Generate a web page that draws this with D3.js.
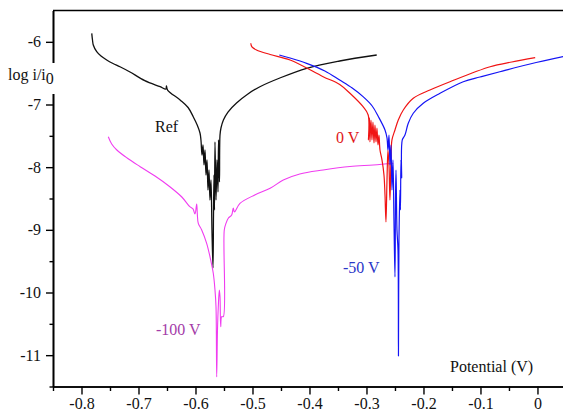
<!DOCTYPE html>
<html>
<head>
<meta charset="utf-8">
<script src="https://cdn.jsdelivr.net/npm/d3@7"></script>
<style>
  body { margin: 0; background: #fff; }
  svg { display: block; }
  text { font-family: "Liberation Serif", "Times New Roman", serif; }
</style>
</head>
<body>
<svg id="chart" width="563" height="416"></svg>
<script>
// tick values
const xMajor = [-0.8, -0.7, -0.6, -0.5, -0.4, -0.3, -0.2, -0.1, 0];
const xMinor = [-0.85, -0.75, -0.65, -0.55, -0.45, -0.35, -0.25, -0.15, -0.05];
const yMajor = [-11, -10, -9, -8, -7, -6];
const yMinor = [-11.5, -10.5, -9.5, -8.5, -7.5, -6.5];

// Ref curve [potential, log i/i0]
const refCurve = [
  [-0.782, -5.864], [-0.7807, -5.971], [-0.7793, -6.050], [-0.7733, -6.157], [-0.7658, -6.226],
  [-0.7558, -6.290], [-0.7447, -6.346], [-0.7325, -6.397], [-0.7149, -6.481],
  [-0.689, -6.620], [-0.662, -6.716], [-0.652, -6.753], [-0.651, -6.705],
  [-0.649, -6.769], [-0.627, -6.928], [-0.613, -7.048], [-0.604, -7.195], [-0.597, -7.327],
  [-0.5921, -7.455], [-0.5904, -7.566], [-0.5886, -7.806], [-0.5868, -7.646], [-0.5851, -7.965],
  [-0.5833, -7.726], [-0.5816, -8.125], [-0.5798, -7.885], [-0.5781, -8.364], [-0.5763, -8.045],
  [-0.5746, -8.524], [-0.5728, -8.204], [-0.5711, -9.002], [-0.5693, -9.609], [-0.5684, -8.763],
  [-0.5675, -8.125], [-0.5667, -8.683], [-0.5658, -7.598], [-0.5640, -8.524], [-0.5623, -7.885],
  [-0.5605, -8.396], [-0.5596, -7.566], [-0.5579, -8.236], [-0.5570, -7.487], [-0.5553, -7.375],
  [-0.551, -7.247], [-0.543, -7.120], [-0.528, -6.976], [-0.508, -6.832], [-0.487, -6.716],
  [-0.452, -6.577], [-0.405, -6.422], [-0.347, -6.306], [-0.282, -6.210]
];

// 0 V curve
const zeroVCurve = [
  [-0.503, -6.023], [-0.501, -6.082], [-0.493, -6.130], [-0.469, -6.202], [-0.434, -6.290],
  [-0.376, -6.556], [-0.347, -6.681], [-0.329, -6.821], [-0.306, -7.035], [-0.297, -7.167],
  [-0.2965, -7.566], [-0.2947, -7.215], [-0.2939, -7.598], [-0.2921, -7.247], [-0.2904, -7.566],
  [-0.2886, -7.279], [-0.2868, -7.614], [-0.2851, -7.327], [-0.2833, -7.598], [-0.2816, -7.375],
  [-0.2798, -7.646], [-0.2781, -7.487], [-0.2763, -7.726], [-0.2728, -7.885], [-0.2693, -8.125],
  [-0.2675, -8.444], [-0.2658, -8.875], [-0.2640, -8.205], [-0.2623, -7.726], [-0.2605, -7.965],
  [-0.2588, -8.524], [-0.2570, -7.885], [-0.2553, -7.566], [-0.250, -7.407], [-0.2442, -7.247],
  [-0.2354, -7.088], [-0.2179, -6.901], [-0.1886, -6.769], [-0.1535, -6.636],
  [-0.083, -6.397], [-0.045, -6.322], [-0.004, -6.253]
];

// -50 V curve
const minus50Curve = [
  [-0.453, -6.210], [-0.434, -6.258], [-0.405, -6.343], [-0.373, -6.465], [-0.347, -6.609],
  [-0.325, -6.737], [-0.306, -6.875], [-0.290, -7.024], [-0.279, -7.195], [-0.2675, -7.407],
  [-0.2640, -7.534], [-0.2623, -7.726], [-0.2605, -7.487], [-0.2588, -7.965], [-0.2570, -7.646],
  [-0.2553, -8.364], [-0.2535, -7.885], [-0.2518, -8.843], [-0.2500, -9.752], [-0.2491, -8.524],
  [-0.2482, -8.045], [-0.2465, -9.002], [-0.2447, -9.322], [-0.2439, -11.013], [-0.2430, -9.162],
  [-0.2412, -8.364], [-0.2404, -8.683], [-0.2395, -7.885], [-0.2383, -8.173], [-0.2372, -7.566],
  [-0.2325, -7.487], [-0.2267, -7.300], [-0.2179, -7.140], [-0.2004, -6.981], [-0.171, -6.821],
  [-0.1302, -6.636], [-0.101, -6.561], [-0.066, -6.477], [-0.013, -6.354], [0.045, -6.237]
];

// -100 V curve
const minus100Curve = [
  [-0.753, -7.514], [-0.747, -7.630], [-0.738, -7.726], [-0.720, -7.854], [-0.697, -7.992],
  [-0.671, -8.141], [-0.645, -8.312], [-0.624, -8.476], [-0.610, -8.631], [-0.6044, -8.667],
  [-0.6009, -8.747], [-0.5979, -8.588], [-0.5968, -8.747], [-0.5951, -8.896], [-0.5891, -9.002],
  [-0.5804, -9.215], [-0.5746, -9.429], [-0.5688, -9.693], [-0.5658, -9.960], [-0.5640, -10.226],
  [-0.5628, -11.348], [-0.5614, -10.598], [-0.5600, -10.226], [-0.5582, -9.960], [-0.5570, -10.067],
  [-0.5558, -10.545], [-0.5540, -10.386], [-0.5512, -10.386], [-0.5495, -9.002], [-0.5465, -8.896],
  [-0.5425, -8.816], [-0.5365, -8.763], [-0.5337, -8.651], [-0.5316, -8.715], [-0.522, -8.577],
  [-0.496, -8.444], [-0.469, -8.337], [-0.446, -8.205], [-0.417, -8.109], [-0.376, -8.045],
  [-0.329, -7.989], [-0.288, -7.965], [-0.253, -7.938]
];

const series = [
  { name: "Ref", data: refCurve, color: "#111111", width: 1.3 },
  { name: "-100 V", data: minus100Curve, color: "#f03cf0", width: 1.1 },
  { name: "0 V", data: zeroVCurve, color: "#f01414", width: 1.2 },
  { name: "-50 V", data: minus50Curve, color: "#1414f5", width: 1.2 }
];

const svg = d3.select("#chart");
const plot = { left: 53, right: 563, top: 10.5, bottom: 386.5 };
const serif = "'Liberation Serif', 'Times New Roman', serif";

const x = d3.scaleLinear().domain([-0.85, 0.0448]).range([plot.left, plot.right]);
const y = d3.scaleLinear().domain([-11.5, -5.5]).range([plot.bottom, plot.top]);

// curves
const line = d3.line()
  .x(d => x(d[0])).y(d => y(d[1]))
  .curve(d3.curveCatmullRom.alpha(0.5));
svg.append("g").selectAll("path")
  .data(series)
  .enter()
  .append("path")
  .attr("d", d => line(d.data))
  .attr("fill", "none")
  .attr("stroke", d => d.color)
  .attr("stroke-width", d => d.width)
  .attr("stroke-linejoin", "round");

// axes
const tickFmt = d => d === 0 ? "0" : d3.format(".1f")(d).replace("−", "-");

svg.append("g")
  .attr("transform", "translate(0," + plot.bottom + ")")
  .call(d3.axisBottom(x).tickValues(xMajor).tickSize(8).tickSizeOuter(0).tickPadding(3).tickFormat(tickFmt));
svg.append("g")
  .attr("transform", "translate(0," + plot.bottom + ")")
  .call(d3.axisBottom(x).tickValues(xMinor).tickSize(4.5).tickSizeOuter(0).tickFormat(""));

svg.append("g")
  .attr("transform", "translate(" + plot.left + ",0)")
  .call(d3.axisLeft(y).tickValues(yMajor).tickSize(7).tickSizeOuter(0).tickPadding(5).tickFormat(d => String(d)));
svg.append("g")
  .attr("transform", "translate(" + plot.left + ",0)")
  .call(d3.axisLeft(y).tickValues(yMinor).tickSize(3.5).tickSizeOuter(0).tickFormat(""));

svg.selectAll(".domain").attr("stroke", "#000").attr("stroke-width", 1.6);
svg.selectAll(".tick line").attr("stroke", "#000").attr("stroke-width", 1.4);
svg.selectAll("g[font-family]").attr("font-family", serif).attr("font-size", 16);
svg.selectAll(".tick text")
  .attr("fill", "#111")
  .attr("font-family", serif)
  .style("font-family", serif)
  .style("font-size", "16px");

// top frame line
svg.append("line")
  .attr("x1", plot.left).attr("x2", plot.right)
  .attr("y1", plot.top).attr("y2", plot.top)
  .attr("stroke", "#000").attr("stroke-width", 1.6);

// y axis title, sits on a white patch over the axis line
svg.append("rect")
  .attr("x", 5).attr("y", 63).attr("width", 55).attr("height", 31)
  .attr("fill", "#fff");
const yTitle = svg.append("text")
  .attr("x", 8).attr("y", 80)
  .attr("fill", "#111")
  .style("font-size", "16px");
yTitle.append("tspan").text("log i/i");
yTitle.append("tspan").attr("dy", 4).style("font-size", "16px").text("0");

svg.append("text")
  .attr("x", 450).attr("y", 372)
  .attr("fill", "#111")
  .style("font-size", "16px")
  .text("Potential (V)");

// curve labels
const labels = [
  { text: "Ref", x: 155, y: 132, color: "#111111" },
  { text: "0 V", x: 336, y: 143, color: "#e01818" },
  { text: "-50 V", x: 343, y: 273, color: "#2a36c8" },
  { text: "-100 V", x: 156, y: 335, color: "#a43ca8" }
];
svg.append("g").selectAll("text")
  .data(labels)
  .enter()
  .append("text")
  .attr("x", d => d.x)
  .attr("y", d => d.y)
  .attr("fill", d => d.color)
  .style("font-size", "16px")
  .text(d => d.text);
</script>
</body>
</html>
